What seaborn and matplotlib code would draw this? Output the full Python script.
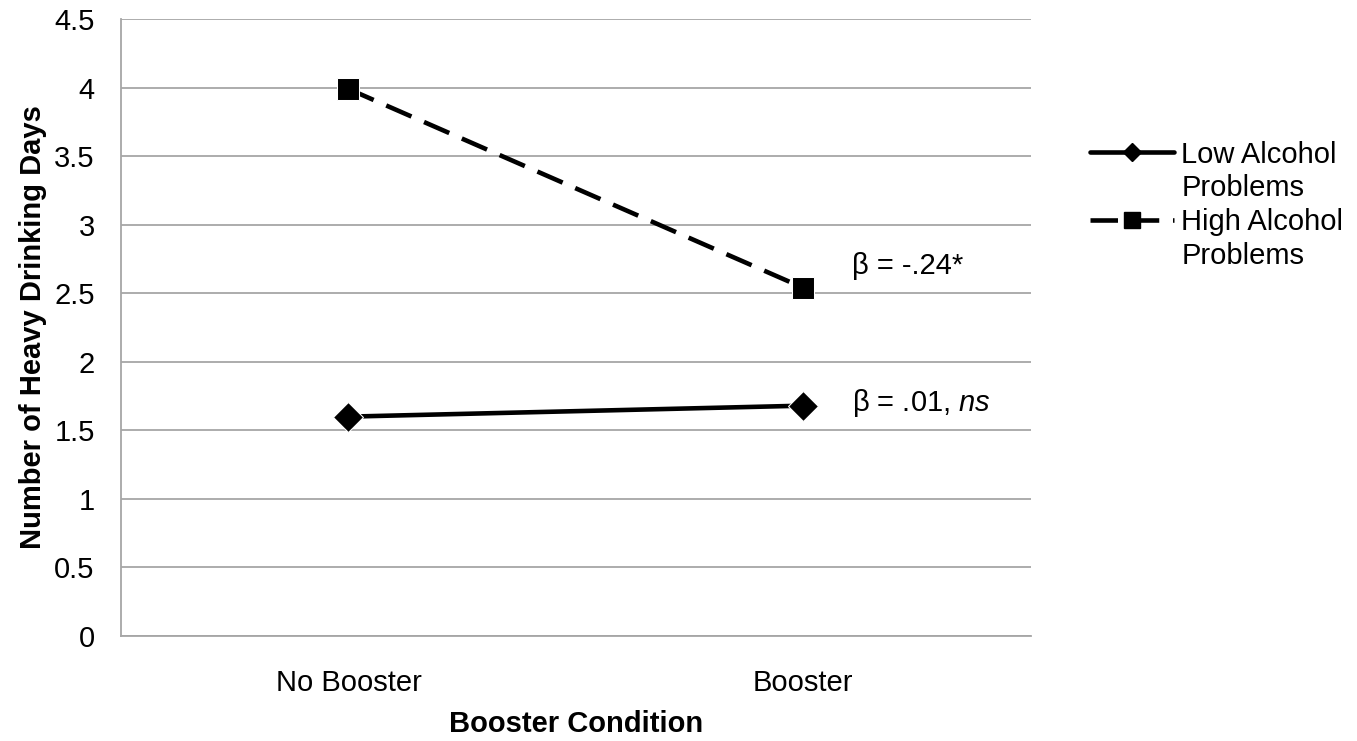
import numpy as np
import pandas as pd
import matplotlib
matplotlib.use("Agg")
import matplotlib.pyplot as plt
from matplotlib.lines import Line2D
import seaborn as sns

# data
conditions = ["No Booster", "Booster"]
low_problems = [1.60, 1.68]
high_problems = [3.99, 2.54]
group_names = ["Low Alcohol Problems", "High Alcohol Problems"]
betas = ["β = -.24*", r"β = .01, $\mathit{ns}$"]
y_ticks = [0, 0.5, 1, 1.5, 2, 2.5, 3, 3.5, 4, 4.5]

df = pd.DataFrame({
    "condition": conditions * 2,
    "days": low_problems + high_problems,
    "group": [group_names[0]] * 2 + [group_names[1]] * 2,
})

sns.set_style("white")
plt.rcParams["font.family"] = ["Liberation Sans", "DejaVu Sans"]
plt.rcParams["text.color"] = "black"
plt.rcParams["xtick.color"] = "black"
plt.rcParams["ytick.color"] = "black"
plt.rcParams["axes.labelcolor"] = "black"
plt.rcParams["mathtext.fontset"] = "custom"
plt.rcParams["mathtext.it"] = "Liberation Sans:italic"
plt.rcParams["mathtext.rm"] = "Liberation Sans"

fs = 21
fig = plt.figure(figsize=(13.57, 7.41), dpi=100)
ax = fig.add_axes([0.0892, 0.1417, 0.6703, 0.8326])

dash = (6, 3)
sns.lineplot(data=df, x="condition", y="days", hue="group", style="group",
             markers={group_names[0]: "D", group_names[1]: "s"},
             dashes={group_names[0]: "", group_names[1]: dash},
             palette={group_names[0]: "black", group_names[1]: "black"},
             linewidth=3.3, markersize=15, ax=ax, sort=False, legend=False)
for ln in ax.lines:
    if ln.get_marker() == "s":
        ln.set_markersize(16.5)

ax.set_ylim(0, 4.5)
ax.set_yticks(y_ticks)
ax.set_yticklabels([f"{t:g}" for t in y_ticks], fontsize=fs)
ax.yaxis.grid(True, color="#a6a6a6", linewidth=1.3)
ax.set_axisbelow(True)

ax.set_xlim(-0.5, 1.5)
ax.set_xticks([0, 1])
ax.set_xticklabels(conditions, fontsize=fs)
ax.set_xticks([-0.5, 0.5, 1.5], minor=True)
ax.tick_params(axis="x", which="major", length=0, pad=24)
ax.tick_params(axis="x", which="minor", length=7, color="#a6a6a6", width=1.3)
ax.tick_params(axis="y", length=6, color="#a6a6a6", width=1.3, pad=13)

for s in ["top", "right"]:
    ax.spines[s].set_visible(False)
for s in ["left", "bottom"]:
    ax.spines[s].set_color("#a6a6a6")
    ax.spines[s].set_linewidth(1.3)

ax.set_xlabel("Booster Condition", fontsize=fs, fontweight="bold", labelpad=9)
ax.set_ylabel("Number of Heavy Drinking Days", fontsize=fs, fontweight="bold", labelpad=5)

ax.text(1.108, 2.70, betas[0], fontsize=fs, va="center", ha="left")
ax.text(1.108, 1.70, betas[1], fontsize=fs, va="center", ha="left")

# legend: handle on the first text line, second line left blank
blank = Line2D([], [], color="none")
low_h = Line2D([], [], color="black", linewidth=3.3, marker="D", markersize=9)
high_h = Line2D([], [], color="black", linewidth=3.3, linestyle=(0, dash),
                marker="s", markersize=11)
ax.legend([low_h, blank, high_h, blank],
          ["Low Alcohol", "Problems", "High Alcohol", "Problems"],
          loc="upper left", bbox_to_anchor=(1.052, 0.822),
          frameon=False, fontsize=fs, handlelength=2.9, handletextpad=0.25,
          labelspacing=0.2, borderaxespad=0)

fig.savefig("out.png", dpi=100)
